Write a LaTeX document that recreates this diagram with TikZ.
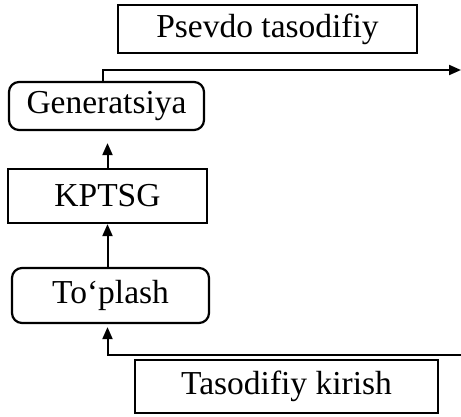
\documentclass[tikz,border=0pt]{standalone}
\usepackage{fontspec}
\setmainfont{Liberation Serif}
\usetikzlibrary{arrows.meta}
\tikzset{
  block/.style={draw,line width=2.2pt,inner sep=0pt,font=\fontsize{33.5}{40}\selectfont},
  rblock/.style={block,rounded corners=10pt},
  link/.style={line width=2pt,-{Triangle[length=12pt,width=10pt]}}
}
\begin{document}
\begin{tikzpicture}[x=1pt,y=-1pt]
  \useasboundingbox (0,0) rectangle (461,416);
  % boxes
  \node[block,minimum width=299pt,minimum height=48pt] (psevdo) at (267.5,29) {Psevdo tasodifiy};
  \node[rblock,minimum width=195pt,minimum height=48pt] (gen) at (106.5,106) {Generatsiya};
  \node[block,minimum width=199pt,minimum height=54pt] (kptsg) at (107.5,196) {KPTSG};
  \node[rblock,minimum width=197pt,minimum height=55pt] (toplash) at (110.5,295.5) {To‘plash};
  \node[block,minimum width=303pt,minimum height=53pt] (tasod) at (286.5,386.5) {Tasodifiy kirish};
  \coordinate (chiqish) at (461,70);
  \coordinate (kirish) at (461,355);
  % connectors
  \draw[link] ([xshift=-3.5pt]gen.north) |- (chiqish);
  \draw[link,shorten >=12pt] (kptsg.north) -- (kptsg.north |- gen.south);
  \draw[link] (kptsg.south |- toplash.north) -- (kptsg.south);
  \draw[link,shorten >=3pt] (kirish) -| ([xshift=-3pt]toplash.south);
\end{tikzpicture}
\end{document}
